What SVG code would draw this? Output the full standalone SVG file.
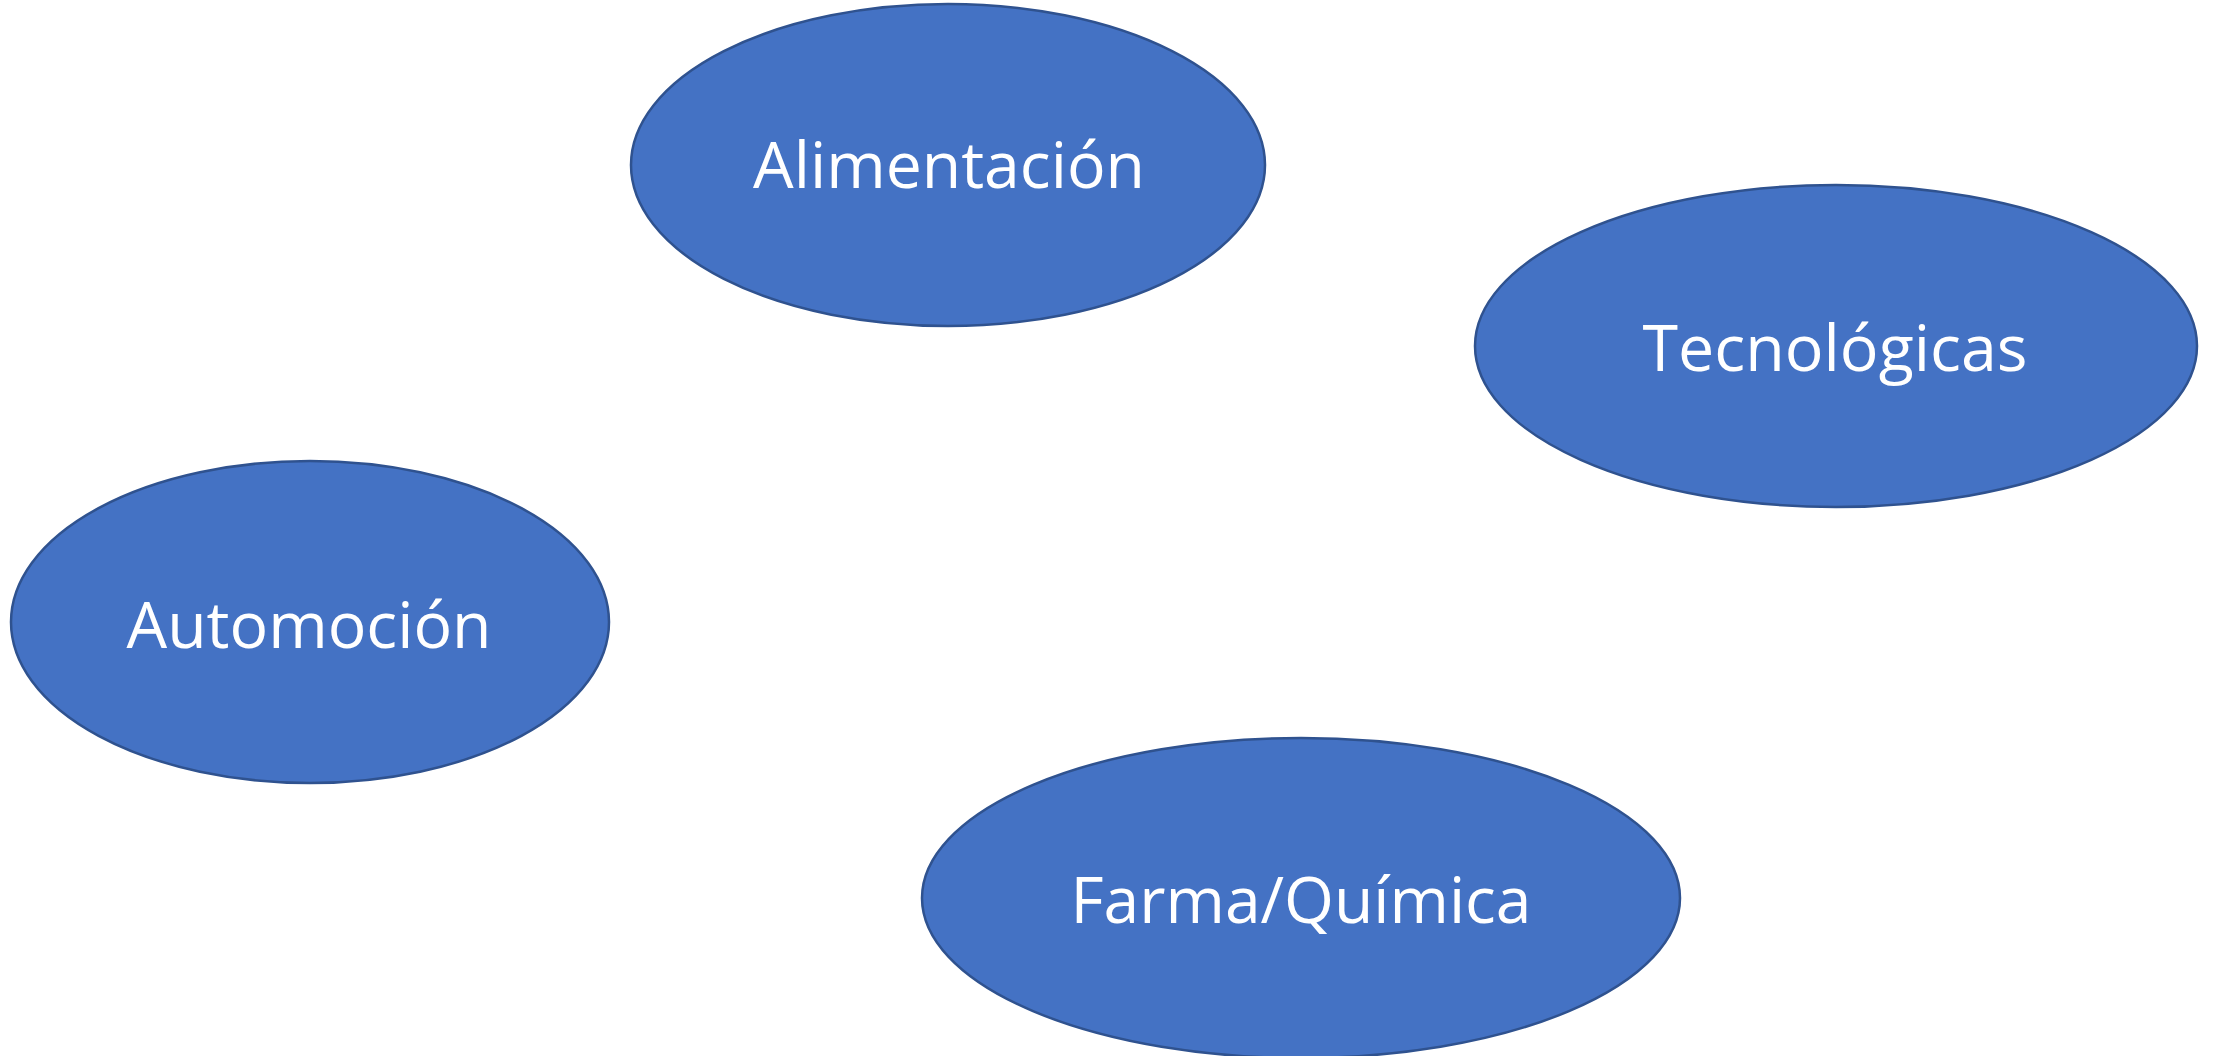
<svg xmlns="http://www.w3.org/2000/svg" width="2213" height="1056" viewBox="0 0 2213 1056">
<style>
.node ellipse{fill:#4472C4;stroke:#2F528F;stroke-width:2.5}
.node text{fill:#FFFFFF;font-family:"Open Sans","Liberation Sans",sans-serif;font-size:64px;text-anchor:middle}
</style>
<rect width="2213" height="1056" fill="#FFFFFF"/>
<g id="connectors"></g>
<g id="node-alimentacion" class="node">
<ellipse cx="948" cy="165" rx="317" ry="161"/>
<text x="949" y="188" textLength="392" lengthAdjust="spacingAndGlyphs">Alimentación</text>
</g>
<g id="node-tecnologicas" class="node">
<ellipse cx="1836" cy="346" rx="361" ry="161"/>
<text x="1835" y="371" textLength="385" lengthAdjust="spacingAndGlyphs">Tecnológicas</text>
</g>
<g id="node-automocion" class="node">
<ellipse cx="310" cy="622" rx="299" ry="161"/>
<text x="309" y="648" textLength="365" lengthAdjust="spacingAndGlyphs">Automoción</text>
</g>
<g id="node-farma" class="node">
<ellipse cx="1301" cy="898" rx="379" ry="160"/>
<text x="1301" y="923" textLength="461" lengthAdjust="spacingAndGlyphs">Farma/Química</text>
</g>
</svg>
